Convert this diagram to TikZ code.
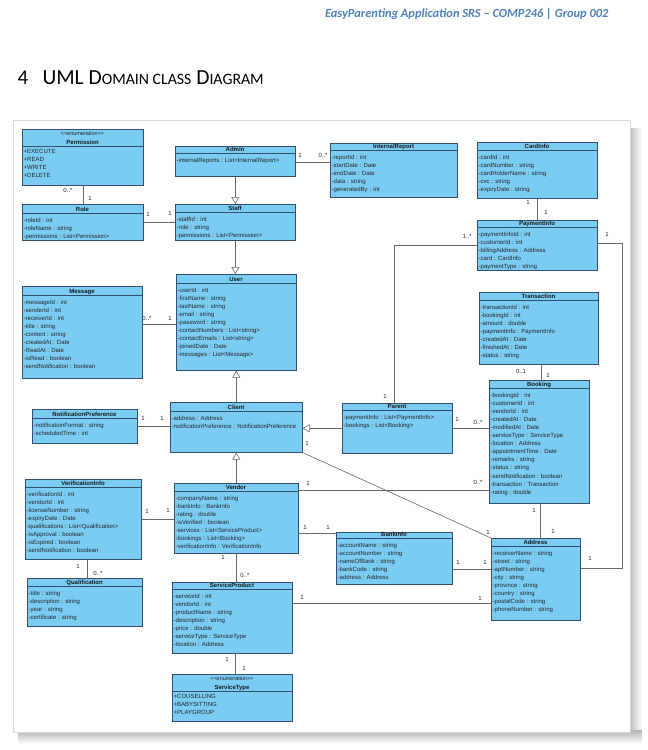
\documentclass[tikz,border=0pt]{standalone}
\usepackage{fontspec}
\setmainfont{Liberation Sans}
\newfontfamily\calib{Carlito}
\usetikzlibrary{arrows.meta,calc}
\definecolor{clsfill}{RGB}{122,204,242}
\definecolor{clsdraw}{RGB}{50,80,110}
\definecolor{conn}{RGB}{105,105,105}
\definecolor{hdrblue}{RGB}{79,129,189}
\tikzset{
  clsbox/.style={draw=clsdraw, fill=clsfill, line width=0.6pt, inner sep=0pt},
  clssep/.style={draw=clsdraw, line width=0.5pt},
  clstitle/.style={inner sep=0pt, font=\bfseries\fontsize{6}{7}\selectfont, text=black!90},
  clsattr/.style={inner sep=0pt, font=\fontsize{6}{7}\selectfont, text=black!85},
  stereo/.style={inner sep=0pt, font=\fontsize{5.5}{7}\selectfont, text=black!85},
  conn/.style={draw=conn, line width=0.6pt},
  gen/.style={conn, -{Triangle[open, length=7pt, width=8pt]}},
  mult/.style={inner sep=0pt, font=\fontsize{6}{7}\selectfont, text=black!85}
}
\newcommand\umlclass[8]{%
  \node[clsbox, minimum width=#4pt, minimum height=#5pt, anchor=north west] (#1) at (#2,#3) {};
  \draw[clssep] (#2,#3+#6) -- (#2+#4,#3+#6);
  \node[clstitle, anchor=base] (#1-title) at (#2+#4/2,#3+#6-1.7) {#7};
  \foreach \a [count=\i] in {#8} {\node[clsattr, anchor=base west] (#1-a\i) at (#2+1.5,{#3+#6+9+(\i-1)*8.1}) {\a};}
}
\newcommand\umlenum[8]{%
  \node[clsbox, minimum width=#4pt, minimum height=#5pt, anchor=north west] (#1) at (#2,#3) {};
  \draw[clssep] (#2,#3+#6) -- (#2+#4,#3+#6);
  \node[stereo, anchor=base] (#1-st) at (#2+#4/2,#3+6.5) {<{}<enumeration>{}>};
  \node[clstitle, anchor=base] (#1-title) at (#2+#4/2,#3+#6-1.7) {#7};
  \foreach \a [count=\i] in {#8} {\node[clsattr, anchor=base west] (#1-a\i) at (#2+1.5,{#3+#6+7.5+(\i-1)*8.1}) {\a};}
}
\begin{document}
\begin{tikzpicture}[x=1pt, y=-1pt]
\useasboundingbox (0,0) rectangle (648,750);
\fill[white] (0,0) rectangle (648,750);
% page header
\node[anchor=base east, text=hdrblue, font=\calib\bfseries\itshape\fontsize{12.4}{14}\selectfont] (hdr) at (612,17) {EasyParenting Application SRS – COMP246 | Group 002};
\node[anchor=base west, font=\calib\fontsize{21}{24}\selectfont] (secnum) at (14,84) {4};
\node[anchor=base west, font=\calib\fontsize{21.5}{24}\selectfont] (sectitle) at (39,84) {UML D{\fontsize{15.8}{18}\selectfont OMAIN CLASS} D{\fontsize{15.8}{18}\selectfont IAGRAM}};
% frame with shadow
\shade[left color=gray!60, right color=white] (628,128) rectangle (642,744);
\shade[top color=gray!60, bottom color=white] (18,730) rectangle (642,744);
\filldraw[fill=white, draw=gray!30, line width=0.5pt] (13,120) rectangle (630,732);

% classes
\umlenum{permission}{22}{129}{121}{56}{17}{Permission}{+EXECUTE,+READ,+WRITE,+DELETE}
\umlclass{role}{22}{204}{121}{36}{9}{Role}{-roleId : int,-roleName : string,-permissions : List<Permission>}
\umlclass{admin}{175}{146}{120}{30}{7}{Admin}{-internalReports : List<InternalReport>}
\umlclass{staff}{175}{204}{120}{36}{8}{Staff}{-staffId : int,-role : string,-permissions : List<Permission>}
\umlclass{report}{330}{143}{127}{54}{7}{InternalReport}{-reportId : int,-startDate : Date,-endDate : Date,-data : string,-generatedBy : int}
\umlclass{card}{477}{142}{120}{56}{8}{CardInfo}{-cardId : int,-cardNumber : string,-cardHolderName : string,-cvc : string,-expiryDate : string}
\umlclass{payment}{477}{220}{120}{50}{7}{PaymentInfo}{-paymentInfoId : int,-customerId : int,-billingAddress : Address,-card : CardInfo,-paymentType : string}
\umlclass{message}{22}{286}{120}{92}{9}{Message}{-messageId : int,-senderId : int,-receiverId : int,-title : string,-content : string,-createdAt : Date,-ReadAt : Date,-isRead : boolean,-sendNotification : boolean}
\umlclass{user}{176}{274}{120}{96}{9}{User}{-userId : int,-firstName : string,-lastName : string,-email : string,-password : string,-contactNumbers : List<string>,-contactEmails : List<string>,-joinedDate : Date,-messages : List<Message>}
\umlclass{transaction}{479}{292}{119}{72}{8}{Transaction}{-transactionId : int,-bookingId : int,-amount : double,-paymentInfo : PaymentInfo,-createdAt : Date,-finishedAt : Date,-status : string}
\umlclass{booking}{489}{380}{100}{123}{8}{Booking}{-bookingId : int,-customerId : int,-vendorId : int,-createdAt : Date,-modifiedAt : Date,-serviceType : ServiceType,-location : Address,-appointmentTime : Date,-remarks : string,-status : string,-sendNotification : boolean,-transaction : Transaction,-rating : double}
\umlclass{notif}{32}{409}{105}{34}{9}{NotificationPreference}{-notificationFormat : string,-scheduledTime : int}
\umlclass{client}{170}{402}{132}{50}{9}{Client}{-address : Address,-notificationPreference : NotificationPreference}
\umlclass{parent}{342}{403}{110}{50}{7}{Parent}{-paymentInfo : List<PaymentInfo>,-bookings : List<Booking>}
\umlclass{verif}{25}{479}{116}{80}{8}{VerificationInfo}{-verificationId : int,-vendorId : int,-licenseNumber : string,-expiryDate : Date,-qualifications : List<Qualification>,-isApproval : boolean,-isExpired : boolean,-sendNotification : boolean}
\umlclass{vendor}{174}{483}{124}{70}{8}{Vendor}{-companyName : string,-bankInfo : BankInfo,-rating : double,-isVerified : boolean,-services : List<ServiceProduct>,-bookings : List<Booking>,-verificationInfo : VerificationInfo}
\umlclass{qual}{27}{578}{115}{48}{8}{Qualification}{-title : string,-description : string,-year : string,-certificate : string}
\umlclass{product}{172}{582}{120}{71}{7}{ServiceProduct}{-serviceId : int,-vendorId : int,-productName : string,-description : string,-price : double,-serviceType : ServiceType,-location : Address}
\umlenum{stype}{172}{674}{120}{47}{17}{ServiceType}{+COUSELLING,+BABYSITTING,+PLAYGROUP}
\umlclass{bank}{336}{532}{116}{52}{6}{BankInfo}{-accountName : string,-accountNumber : string,-nameOfBank : string,-bankCode : string,-address : Address}
\umlclass{address}{491}{538}{89}{82}{8}{Address}{-receiverName : string,-street : string,-aptNumber : string,-city : string,-province : string,-country : string,-postalCode : string,-phoneNumber : string}

% connectors
\draw[conn] (permission.south) -- (role.north);
\draw[conn] (role.east) -- (role.east -| staff.west);
\draw[conn] ([yshift=-1pt]admin.east) -- ([yshift=-1pt]admin.east -| report.west);
\draw[gen] (admin.south) -- (staff.north);
\draw[gen] (staff.south) -- (staff.south |- user.north);
\draw[gen] (client.north) -- (client.north |- user.south);
\draw[conn] ([yshift=8pt]message.east) -- ([yshift=8pt]message.east -| user.west);
\draw[conn] (card.south) -- (payment.north);
\draw[conn] (payment.west) -| ([xshift=-3pt]parent.north);
\draw[conn] ([yshift=2pt]payment.east) -- ++(25,0) |- ([yshift=11pt]address.east);
\draw[conn] ([xshift=2pt]transaction.south) -- ([xshift=2pt]transaction.south |- booking.north);
\draw[conn] (notif.east) -- (notif.east -| client.west);
\draw[gen] (parent.west) -- (parent.west -| client.east);
\draw[conn] (parent.east) -- (parent.east -| booking.west);
\draw[conn] ([yshift=-7pt]vendor.north east) -- ([yshift=-7pt]vendor.north east -| booking.west);
\draw[gen] (vendor.north) -- (vendor.north |- client.south);
\draw[conn] (client.south east) -- (address.north west);
\draw[conn] ([xshift=1pt]booking.south) -- ([xshift=1pt]booking.south |- address.north);
\draw[conn] (verif.east) -- (verif.east -| vendor.west);
\draw[conn] ([yshift=-50pt]vendor.north east) -- ([yshift=-50pt]vendor.north east -| bank.west);
\draw[conn] ([yshift=-11pt]bank.east) -- ([yshift=-11pt]bank.east -| address.west);
\draw[conn] ([xshift=4pt]verif.south) -- ([xshift=4pt]verif.south |- qual.north);
\draw[conn] (vendor.south) -- (vendor.south |- product.north);
\draw[conn] ([xshift=3pt]product.south) -- ([xshift=3pt]product.south |- stype.north);
\draw[conn] ([yshift=-21pt]product.north east) -- ([yshift=-21pt]product.north east -| address.west);

% multiplicities
\node[mult] (m1) at (68,190) {0..*};
\node[mult] (m2) at (90,198) {1};
\node[mult] (m3) at (148,214) {1};
\node[mult] (m4) at (170,213) {1};
\node[mult] (m5) at (300,155) {1};
\node[mult] (m6) at (323,155) {0..*};
\node[mult] (m7) at (147,318) {0..*};
\node[mult] (m8) at (170,318) {1};
\node[mult] (m9) at (528,202) {1};
\node[mult] (m10) at (546,212) {1};
\node[mult] (m11) at (467,236) {1..*};
\node[mult] (m12) at (385,396) {1};
\node[mult] (m13) at (607,234) {1};
\node[mult] (m14) at (590,558) {1};
\node[mult] (m15) at (521,371) {0..1};
\node[mult] (m16) at (548,375) {1};
\node[mult] (m17) at (143,418) {1};
\node[mult] (m18) at (162,418) {1};
\node[mult] (m19) at (457,419) {1};
\node[mult] (m20) at (478,422) {0..*};
\node[mult] (m21) at (308,483) {1};
\node[mult] (m22) at (478,482) {0..*};
\node[mult] (m23) at (307,443) {1};
\node[mult] (m24) at (488,532) {1};
\node[mult] (m25) at (534,510) {1};
\node[mult] (m26) at (553,531) {1};
\node[mult] (m27) at (147,511) {1};
\node[mult] (m28) at (168,510) {1};
\node[mult] (m29) at (305,527) {1};
\node[mult] (m30) at (328,527) {1};
\node[mult] (m31) at (458,562) {1};
\node[mult] (m32) at (485,562) {1};
\node[mult] (m33) at (78,566) {1};
\node[mult] (m34) at (98,573) {0..*};
\node[mult] (m35) at (223,557) {1};
\node[mult] (m36) at (245,575) {0..*};
\node[mult] (m37) at (227,659) {1};
\node[mult] (m38) at (244,668) {1};
\node[mult] (m39) at (302,597) {1};
\node[mult] (m40) at (480,598) {1};
\end{tikzpicture}
\end{document}
